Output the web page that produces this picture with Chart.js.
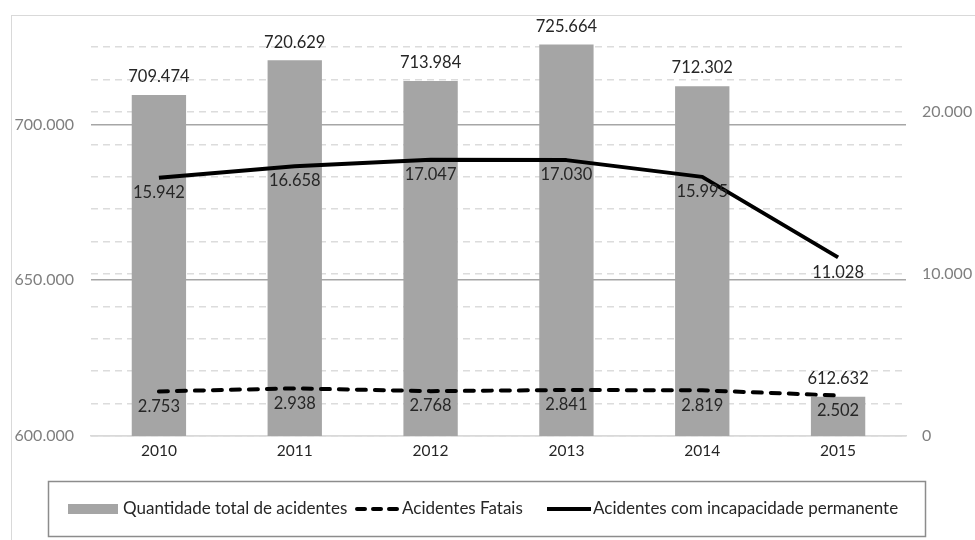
<!DOCTYPE html>
<html>
<head>
<meta charset="utf-8">
<script src="https://cdn.jsdelivr.net/npm/chart.js@4.4.1/dist/chart.umd.min.js"></script>
<style>
  html, body { margin: 0; padding: 0; background: #fff; }
  #wrap { position: relative; width: 975px; height: 540px; overflow: hidden; }
  #frame { position: absolute; left: 11px; top: 15px; width: 1000px; height: 600px;
           border: 1.5px solid #d9d9d9; box-sizing: border-box; }
  canvas { position: absolute; left: 0; top: 0; }
</style>
</head>
<body>
<div id="wrap">
  <div id="frame"></div>
  <canvas id="chart" width="975" height="540"></canvas>
</div>
<script>
// Accident statistics, 2010-2015
const years = ['2010', '2011', '2012', '2013', '2014', '2015'];
const totalAccidents = [709474, 720629, 713984, 725664, 712302, 612632];
const fatalAccidents = [2753, 2938, 2768, 2841, 2819, 2502];
const permanentDisability = [15942, 16658, 17047, 17030, 15995, 11028];

const leftTicks = [600000, 650000, 700000];
const rightTicks = [0, 2000, 4000, 6000, 8000, 10000, 12000, 14000, 16000, 18000, 20000, 22000, 24000];
const rightLabelled = [0, 10000, 20000];

const seriesNames = [
  'Quantidade total de acidentes',
  'Acidentes Fatais',
  'Acidentes com incapacidade permanente'
];

const FONT = 'Lato';

// thousands separated with dots
function fmt(v) {
  return String(Math.round(v)).replace(/\B(?=(\d{3})+(?!\d))/g, '.');
}

// value labels: above the bars, below the line points
const valueLabels = {
  id: 'valueLabels',
  afterDatasetsDraw(chart) {
    const ctx = chart.ctx;
    ctx.save();
    ctx.font = '16.5px ' + FONT;
    ctx.fillStyle = '#262626';
    ctx.textAlign = 'center';
    ctx.textBaseline = 'middle';
    chart.data.datasets.forEach((ds, i) => {
      const meta = chart.getDatasetMeta(i);
      meta.data.forEach((el, j) => {
        const txt = fmt(ds.data[j]);
        if (ds.type === 'bar') {
          ctx.fillText(txt, el.x, el.y - 18);
        } else {
          ctx.fillText(txt, el.x, el.y + 15);
        }
      });
    });
    ctx.restore();
  }
};

// boxed legend under the axis
const boxedLegend = {
  id: 'boxedLegend',
  afterDraw(chart) {
    const ctx = chart.ctx;
    ctx.save();
    ctx.strokeStyle = '#8c8c8c';
    ctx.lineWidth = 1.5;
    ctx.strokeRect(48.5, 481.5, 877, 55);

    ctx.font = '17px ' + FONT;
    ctx.textBaseline = 'middle';
    ctx.textAlign = 'left';
    const cy = 509;

    // bar swatch
    ctx.fillStyle = '#a5a5a5';
    ctx.fillRect(68, cy - 5, 50, 10);
    ctx.fillStyle = '#262626';
    ctx.fillText(seriesNames[0], 123, cy);

    // dashed line sample
    ctx.strokeStyle = '#000';
    ctx.lineWidth = 4;
    ctx.lineCap = 'round';
    ctx.setLineDash([8, 8]);
    ctx.beginPath();
    ctx.moveTo(357, cy);
    ctx.lineTo(397, cy);
    ctx.stroke();
    ctx.fillText(seriesNames[1], 402, cy);

    // solid line sample
    ctx.setLineDash([]);
    ctx.lineCap = 'butt';
    ctx.beginPath();
    ctx.moveTo(547, cy);
    ctx.lineTo(591, cy);
    ctx.stroke();
    ctx.fillText(seriesNames[2], 593, cy);
    ctx.restore();
  }
};

new Chart(document.getElementById('chart'), {
  type: 'bar',
  data: {
    labels: years,
    datasets: [
      {
        type: 'line',
        label: seriesNames[2],
        data: permanentDisability,
        yAxisID: 'y2',
        borderColor: '#000',
        borderWidth: 4,
        borderJoinStyle: 'round',
        pointRadius: 0,
        tension: 0,
        order: 0
      },
      {
        type: 'line',
        label: seriesNames[1],
        data: fatalAccidents,
        yAxisID: 'y2',
        borderColor: '#000',
        borderWidth: 4,
        borderDash: [9, 9],
        borderCapStyle: 'round',
        pointRadius: 0,
        tension: 0,
        order: 1
      },
      {
        type: 'bar',
        label: seriesNames[0],
        data: totalAccidents,
        yAxisID: 'y',
        backgroundColor: '#a5a5a5',
        categoryPercentage: 1,
        barPercentage: 0.4,
        order: 2
      }
    ]
  },
  options: {
    responsive: false,
    animation: false,
    layout: { padding: { top: 31, left: 0, right: 0, bottom: 0 } },
    plugins: { legend: { display: false }, tooltip: { enabled: false } },
    scales: {
      x: {
        grid: { display: false, drawTicks: false },
        border: { display: true, color: '#d9d9d9', width: 1.5 },
        ticks: { color: '#262626', font: { family: FONT, size: 15.5 }, padding: 6 },
        afterFit(s) { s.height = 104; }
      },
      y: {
        position: 'left',
        min: 600000,
        max: 730000,
        afterBuildTicks(s) { s.ticks = leftTicks.map(v => ({ value: v })); },
        grid: {
          color: c => (c.tick && c.tick.value === leftTicks[0]) ? '#d9d9d9' : '#a6a6a6',
          lineWidth: 1.5,
          drawTicks: false
        },
        border: { display: false },
        ticks: {
          padding: 17,
          color: '#7f7f7f',
          font: { family: FONT, size: 16 },
          callback: v => fmt(v)
        },
        afterFit(s) { s.width = 91; }
      },
      y2: {
        position: 'right',
        min: 0,
        max: 25000,
        afterBuildTicks(s) { s.ticks = rightTicks.map(v => ({ value: v })); },
        grid: { color: '#dcdcdc', lineWidth: 1.5, drawTicks: false },
        border: { display: false, dash: [7, 5] },
        ticks: {
          padding: 16,
          autoSkip: false,
          color: '#7f7f7f',
          font: { family: FONT, size: 16 },
          callback: v => rightLabelled.includes(v) ? fmt(v) : ''
        },
        afterFit(s) { s.width = 69; }
      }
    }
  },
  plugins: [valueLabels, boxedLegend]
});
</script>
</body>
</html>
